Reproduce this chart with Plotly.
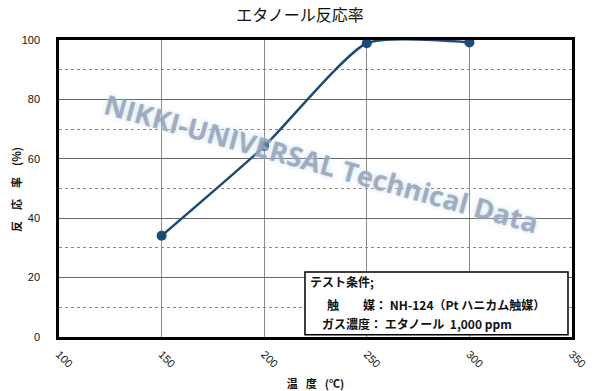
import plotly.graph_objects as go

temps = [150, 200, 250, 300]
conversion = [34.1, 64.2, 98.9, 99.2]
x_ticks = [100, 150, 200, 250, 300, 350]
y_ticks = [0, 20, 40, 60, 80, 100]

title_text = "エタノール反応率"
x_title = "温\u2002 度\u2002 (℃)"
y_title = "反\u3000応\u3000率\u3000(%)"
watermark = "NIKKI-UNIVERSAL Technical Data"
box_lines = ["テスト条件;",
             "触\u3000\u3000媒： NH-124（Pt ハニカム触媒）",
             "ガス濃度： エタノール  1,000 ppm"]
box_line_x = [0.4848, 0.5189, 0.5097]
box_line_y = [0.1852, 0.1088, 0.0448]

fig = go.Figure()
fig.add_trace(go.Scatter(
    x=temps, y=conversion, mode="lines+markers",
    line=dict(color="#1d4a78", width=2.5, shape="spline", smoothing=0.55),
    marker=dict(color="#1d4a78", size=10),
    hoverinfo="skip", showlegend=False, cliponaxis=False))

jp = "Noto Sans CJK JP"
fig.update_layout(
    width=600, height=391,
    margin=dict(l=59, r=28, t=40, b=54),
    paper_bgcolor="white", plot_bgcolor="white",
    title=dict(text=title_text, x=0.5, xanchor="center", y=0.96, yanchor="middle",
               font=dict(family=jp, size=16, color="#111")),
    font=dict(family="Liberation Sans, Arial", color="#111"),
)
fig.update_xaxes(
    range=[100, 350], tickvals=x_ticks, ticktext=[str(v) for v in x_ticks],
    tickangle=45, tickfont=dict(size=11, family="Liberation Sans"),
    ticks="", ticklabelstandoff=4, automargin=False,
    showgrid=True, gridcolor="#8a8a8a", gridwidth=1,
    showline=True, linecolor="black", linewidth=2.5, mirror=True,
    zeroline=False,
    title=dict(text=x_title, font=dict(family=jp, size=11, weight="bold")),
)
fig.update_yaxes(
    range=[0, 100], tickvals=y_ticks,
    tickfont=dict(size=11, family="Liberation Sans"),
    ticks="", ticklabelstandoff=14, automargin=False,
    showgrid=True, gridcolor="#666666", gridwidth=1,
    minor=dict(dtick=10, tick0=0, showgrid=True, gridcolor="#888888", griddash="dot", gridwidth=1),
    showline=True, linecolor="black", linewidth=2.5, mirror=True,
    zeroline=False,
)

fig.add_annotation(
    text=y_title, xref="paper", yref="paper", x=-0.0838, y=0.495,
    xanchor="center", yanchor="middle", textangle=-90, showarrow=False,
    font=dict(family=jp, size=11, weight="bold", color="#111"),
)

fig.add_annotation(
    text=watermark, xref="paper", yref="paper", x=0.512, y=0.585,
    showarrow=False, textangle=15.5,
    font=dict(family="Open Sans", size=27.5, color="rgba(150,162,180,0.85)", weight="bold",
              shadow="0px 0px 5px #bcd6f0"),
)

fig.add_shape(type="rect", xref="paper", yref="paper",
              x0=0.4795, x1=0.9922, y0=0.0077, y1=0.2189,
              fillcolor="white", line=dict(color="black", width=1.5), layer="above")
for txt, lx, ly in zip(box_lines, box_line_x, box_line_y):
    fig.add_annotation(
        text=txt, xref="paper", yref="paper", x=lx, y=ly,
        xanchor="left", yanchor="middle", align="left", showarrow=False,
        font=dict(family=jp, size=12, color="#111", weight="bold"),
    )

fig.write_html("out.html")
